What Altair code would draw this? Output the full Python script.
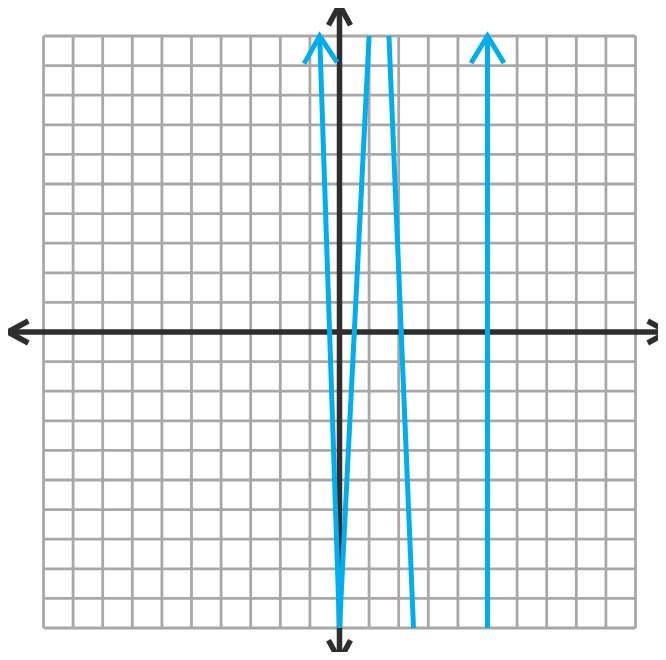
import altair as alt
import pandas as pd

# grid lines (integer units)
grid_values = list(range(-10, 11))

# blue graph: polylines (id, x, y, order)
curve_ids = ["a", "a", "a", "b", "b", "c", "c"]
curve_x = [-0.67, 0.0, 1.0, 1.67, 2.5, 5.0, 5.0]
curve_y = [10, -10, 10, 10, -10, -10, 10]

# blue arrow heads
arrow_x = [-0.67, 5.0]
arrow_y = [10, 10]
arrow_angle = [358, 0]

# black coordinate axes: extents and arrow tips
axis_x_min, axis_x_max = -11.2, 11.1
axis_y_min, axis_y_max = -11.1, 11.05

W, H = 650, 644
UNIT = 29.6
x0 = (8 - 339.5) / UNIT
y1 = (332 - 8) / UNIT
xdom = [x0, x0 + W / UNIT]
ydom = [y1 - H / UNIT, y1]

xs = alt.Scale(domain=xdom, nice=False, zero=False)
ys = alt.Scale(domain=ydom, nice=False, zero=False)

GRID = "#A8A8A8"
BLUE = "#00AEEF"
BLACK = "#2E2E2E"
CHEVRON_BLUE = "M-1,1.64L0,0L1,1.64"
CHEVRON_BLACK = "M-1,1.85L0,0L1,1.85"

vgrid = pd.DataFrame({"x": grid_values, "y": -10, "y2": 10})
hgrid = pd.DataFrame({"y": grid_values, "x": -10, "x2": 10})

vg = alt.Chart(vgrid).mark_rule(color=GRID, strokeWidth=2.8).encode(
    x=alt.X("x:Q", scale=xs, axis=None),
    y=alt.Y("y:Q", scale=ys, axis=None),
    y2="y2:Q",
)
hg = alt.Chart(hgrid).mark_rule(color=GRID, strokeWidth=2.8).encode(
    y=alt.Y("y:Q", scale=ys, axis=None),
    x=alt.X("x:Q", scale=xs, axis=None),
    x2="x2:Q",
)

axes_df = pd.DataFrame({
    "x": [axis_x_min, 0], "x2": [axis_x_max, 0],
    "y": [0, axis_y_min], "y2": [0, axis_y_max],
})
ax = alt.Chart(axes_df).mark_rule(color=BLACK, strokeWidth=5.5).encode(
    x=alt.X("x:Q", scale=xs, axis=None), x2="x2:Q",
    y=alt.Y("y:Q", scale=ys, axis=None), y2="y2:Q",
)

tips_df = pd.DataFrame({
    "x": [axis_x_min, axis_x_max, 0, 0],
    "y": [0, 0, axis_y_max, axis_y_min],
    "angle": [270, 90, 0, 180],
})
ax_tips = alt.Chart(tips_df).mark_point(
    shape=CHEVRON_BLACK, filled=False, color=BLACK, strokeWidth=5.5,
    size=484, opacity=1, strokeJoin="miter", strokeCap="butt",
).encode(
    x=alt.X("x:Q", scale=xs, axis=None),
    y=alt.Y("y:Q", scale=ys, axis=None),
    angle=alt.Angle("angle:Q", scale=None),
)

curve_df = pd.DataFrame({
    "id": curve_ids, "x": curve_x, "y": curve_y,
    "o": list(range(len(curve_x))),
})
curves = alt.Chart(curve_df).mark_line(
    color=BLUE, strokeWidth=5, strokeCap="butt", strokeJoin="miter"
).encode(
    x=alt.X("x:Q", scale=xs, axis=None),
    y=alt.Y("y:Q", scale=ys, axis=None),
    detail="id:N",
    order="o:Q",
)

arrows_df = pd.DataFrame({"x": arrow_x, "y": arrow_y, "angle": arrow_angle})
arrows = alt.Chart(arrows_df).mark_point(
    shape=CHEVRON_BLUE, filled=False, color=BLUE, strokeWidth=5,
    size=1089, opacity=1, strokeJoin="miter", strokeCap="butt",
).encode(
    x=alt.X("x:Q", scale=xs, axis=None),
    y=alt.Y("y:Q", scale=ys, axis=None),
    angle=alt.Angle("angle:Q", scale=None),
)

chart = alt.layer(vg, hg, ax, ax_tips, curves, arrows).properties(
    width=W, height=H, padding=0, autosize="none",
).configure_view(stroke=None)

chart.save("out.html", embed_options={"renderer": "svg", "actions": False})
